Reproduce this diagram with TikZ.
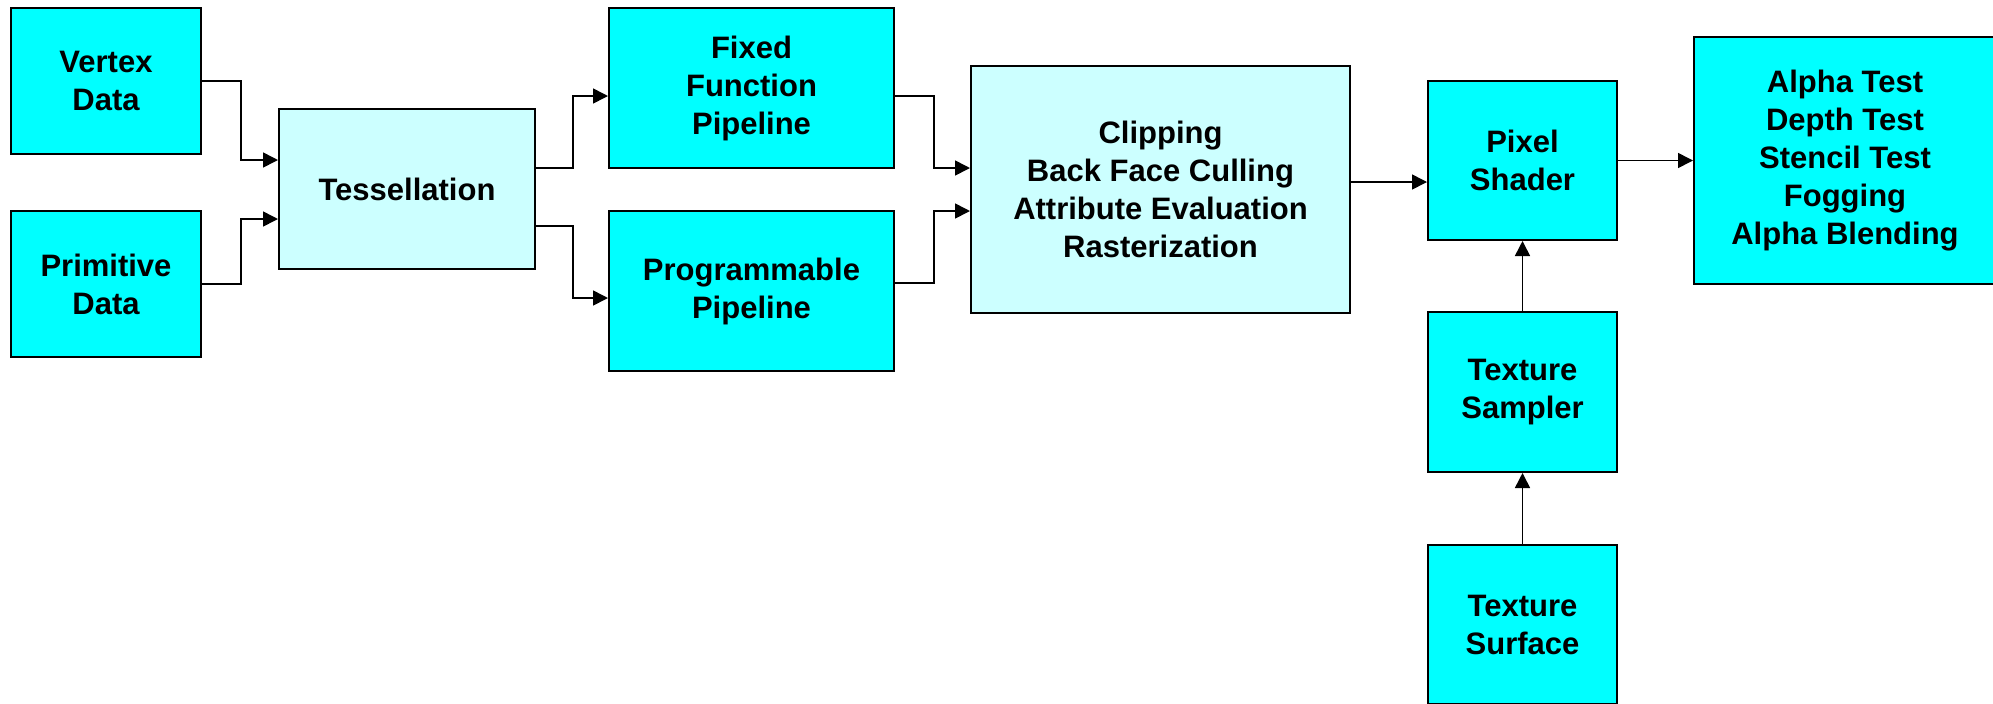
\documentclass[tikz,border=0pt]{standalone}
\usepackage{fontspec}
\setmainfont{Liberation Sans}
\usetikzlibrary{arrows.meta,calc}

\definecolor{boxcyan}{HTML}{00FFFF}
\definecolor{boxpale}{HTML}{CCFFFF}

\tikzset{
  stage/.style={draw=black, line width=1pt, fill=boxcyan, align=center,
    inner sep=0pt, font=\fontsize{15.5}{19}\selectfont\bfseries},
  palestage/.style={stage, fill=boxpale},
  arr/.style={draw=black, line width=0.8pt,
    -{Triangle[length=7.5pt,width=7.5pt]}},
}

\begin{document}
\begin{tikzpicture}[x=0.5pt, y=-0.5pt]
  % page frame (units are image pixels, y grows downward)
  \useasboundingbox (0,0) rectangle (1993,703);
  \clip (0,0) rectangle (1993,703);

  % geometry stage
  \node[stage, minimum width=95pt, minimum height=73pt] (vert) at (106,81) {Vertex\\Data};
  \node[stage, minimum width=95pt, minimum height=73pt] (prim) at (106,284) {Primitive\\Data};
  \node[palestage, minimum width=128pt, minimum height=80pt] (tess) at (407,189) {Tessellation};
  \node[stage, minimum width=142.5pt, minimum height=80pt] (fixed) at (751.5,88) {Fixed\\Function\\Pipeline};
  \node[stage, minimum width=142.5pt, minimum height=80pt] (prog) at (751.5,291) {Programmable\\Pipeline};

  % rasterizer
  \node[palestage, minimum width=189.5pt, minimum height=123.5pt] (clip) at (1160.5,189.5)
    {Clipping\\Back Face Culling\\Attribute Evaluation\\Rasterization};

  % pixel stage
  \node[stage, minimum width=94.5pt, minimum height=79.5pt] (pix) at (1522.5,160.5) {Pixel\\Shader};
  \node[stage, minimum width=94.5pt, minimum height=80pt] (samp) at (1522.5,392) {Texture\\Sampler};
  \node[stage, minimum width=94.5pt, minimum height=79.5pt] (surf) at (1522.5,624.5) {Texture\\Surface};
  \node[stage, minimum width=151pt, minimum height=123.5pt] (alpha) at (1845,160.5)
    {Alpha Test\\Depth Test\\Stencil Test\\Fogging\\Alpha Blending};

  % connectors
  \draw[arr] (vert.east) -- ++(39,0) |- ($(tess.west)+(0,-29)$);
  \draw[arr] (prim.east) -- ++(39,0) |- ($(tess.west)+(0,30)$);
  \draw[arr] ($(tess.east)+(0,-21)$) -- ++(37,0) |- ($(fixed.west)+(0,8)$);
  \draw[arr] ($(tess.east)+(0,37)$) -- ++(37,0) |- ($(prog.west)+(0,7)$);
  \draw[arr] ($(fixed.east)+(0,8)$) -- ++(39,0) |- ($(clip.west)+(0,-21.5)$);
  \draw[arr] ($(prog.east)+(0,-8)$) -- ++(39,0) |- ($(clip.west)+(0,21.5)$);
  \draw[arr] ($(clip.east)+(0,-7.5)$) -- ($(pix.west)+(0,21.5)$);
  \draw[arr] (pix.east) -- (alpha.west);
  \draw[arr] (samp.north) -- (pix.south);
  \draw[arr] (surf.north) -- (samp.south);
\end{tikzpicture}
\end{document}
